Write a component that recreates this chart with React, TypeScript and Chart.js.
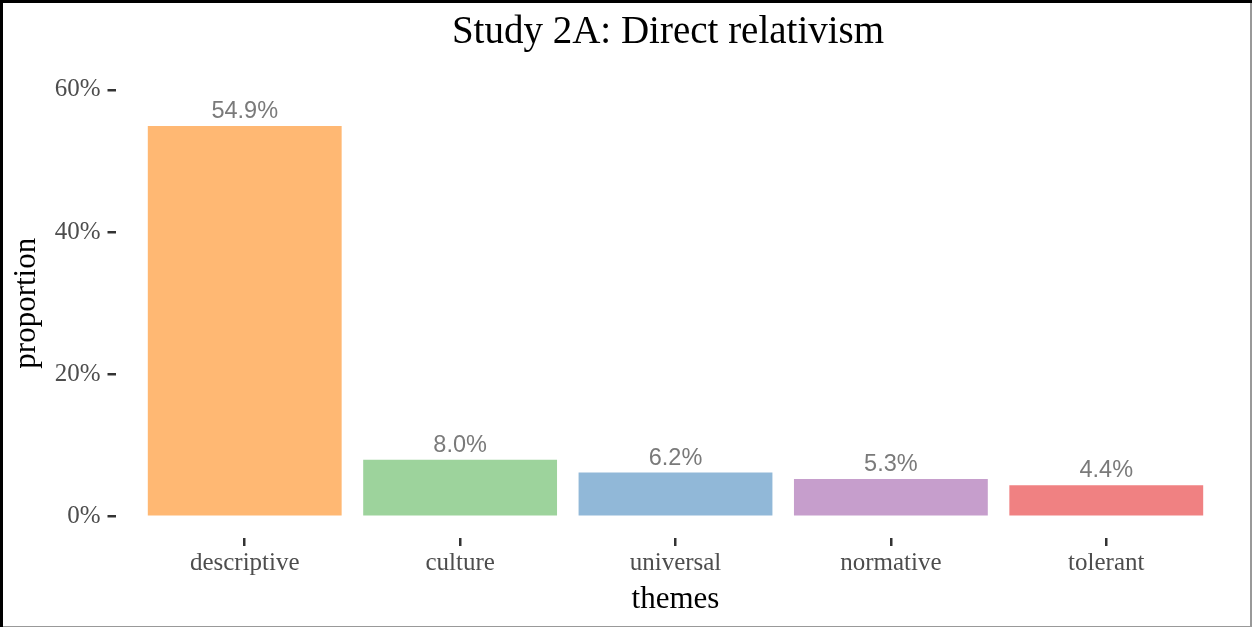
import React, { useEffect, useRef } from "react";
import { Chart, registerables } from "chart.js";

Chart.register(...registerables);

const categories = ["descriptive", "culture", "universal", "normative", "tolerant"];
const proportions = [54.9, 8.0, 6.2, 5.3, 4.4];
const barColors = ["#FFB873", "#9DD39C", "#91B8D8", "#C69ECC", "#F08182"];
const yTicks = [0, 20, 40, 60];
const titleText = "Study 2A: Direct relativism";
const xTitle = "themes";
const yTitle = "proportion";

const SERIF = "'Liberation Serif', 'Times New Roman', serif";
const SANS = "'Liberation Sans', Arial, sans-serif";

export default function App() {
  const ref = useRef<HTMLCanvasElement | null>(null);

  useEffect(() => {
    if (!ref.current) return;
    const overlay = {
      id: "overlay",
      afterDatasetsDraw(chart: any) {
        const ctx = chart.ctx;
        const meta = chart.getDatasetMeta(0);
        ctx.save();
        ctx.font = `23.5px ${SANS}`;
        ctx.fillStyle = "#7a7a7a";
        ctx.textAlign = "center";
        ctx.textBaseline = "alphabetic";
        meta.data.forEach((el: any, i: number) => {
          ctx.fillText(proportions[i].toFixed(1) + "%", el.x, el.y - 8);
        });
        ctx.restore();
      },
      afterDraw(chart: any) {
        const ctx = chart.ctx;
        const w = chart.width;
        const h = chart.height;
        ctx.save();
        ctx.font = `39px ${SERIF}`;
        ctx.fillStyle = "#000";
        ctx.textAlign = "center";
        ctx.textBaseline = "alphabetic";
        ctx.fillText(titleText, 668, 43);
        ctx.fillStyle = "#999";
        ctx.fillRect(w - 2, 0, 2, h);
        ctx.fillRect(0, h - 1, w, 1);
        ctx.fillStyle = "#000";
        ctx.fillRect(0, 0, w, 3);
        ctx.fillRect(0, 0, 3, h);
        ctx.restore();
      },
    };

    const chart = new Chart(ref.current, {
      type: "bar",
      data: {
        datasets: [
          {
            data: proportions.map((v, i) => ({ x: i + 1, y: v })),
            backgroundColor: barColors,
            borderWidth: 0,
            barPercentage: 0.9,
            categoryPercentage: 1,
          },
        ],
      },
      options: {
        animation: false,
        responsive: true,
        maintainAspectRatio: false,
        layout: { padding: { left: 0, right: 16.5, top: 68.5, bottom: 0 } },
        plugins: { legend: { display: false }, tooltip: { enabled: false }, title: { display: false } },
        scales: {
          x: {
            type: "linear",
            min: 0.4,
            max: 5.6,
            offset: false,
            afterBuildTicks: (s: any) => {
              s.ticks = categories.map((_, i) => ({ value: i + 1 }));
            },
            afterFit: (s: any) => {
              s.height = 89;
            },
            ticks: {
              autoSkip: false,
              maxRotation: 0,
              padding: 2,
              color: "#4d4d4d",
              font: { family: SERIF, size: 25 },
              callback: (v: any) => categories[Math.round(Number(v)) - 1] ?? "",
            },
            grid: { drawOnChartArea: false, drawTicks: true, tickLength: 8, color: "#333", lineWidth: 2.5, offset: false },
            border: { display: false },
            title: { display: true, text: xTitle, color: "#000", font: { family: SERIF, size: 31 }, padding: { top: 0, bottom: 9 } },
          },
          y: {
            type: "linear",
            min: -3,
            max: 63,
            afterBuildTicks: (s: any) => {
              s.ticks = yTicks.map((v) => ({ value: v }));
            },
            afterFit: (s: any) => {
              s.width = 115.5;
            },
            ticks: {
              padding: 7,
              color: "#4d4d4d",
              font: { family: SERIF, size: 25 },
              callback: (v: any) => v + "%",
            },
            grid: { drawOnChartArea: false, drawTicks: true, tickLength: 8, color: "#333", lineWidth: 2.5 },
            border: { display: false },
            title: { display: true, text: yTitle, color: "#000", font: { family: SERIF, size: 31 }, padding: { top: 8, bottom: 0 } },
          },
        },
      },
      plugins: [overlay],
    } as any);
    return () => chart.destroy();
  }, []);

  return (
    <div style={{ position: "fixed", left: 0, top: 0, width: 1252, height: 627, background: "#fff" }}>
      <canvas ref={ref} />
    </div>
  );
}
